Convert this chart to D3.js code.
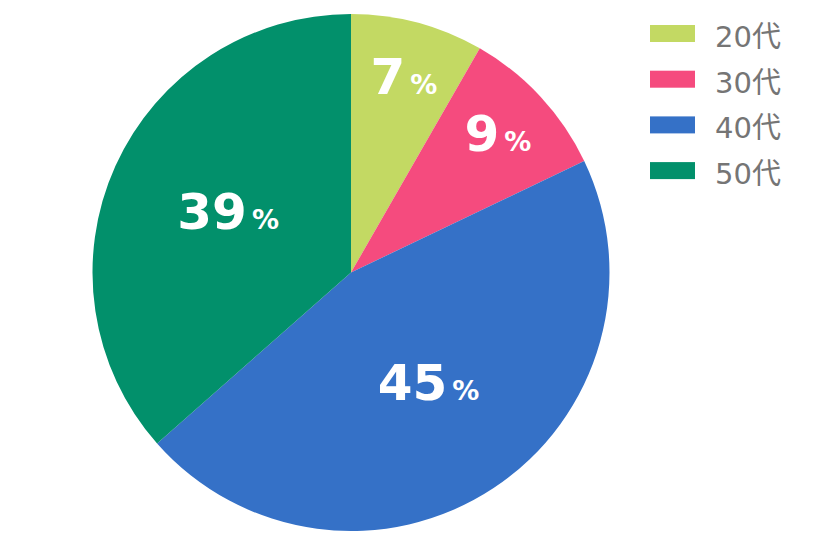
<!DOCTYPE html>
<html>
<head>
<meta charset="utf-8">
<script src="https://cdn.jsdelivr.net/npm/d3@7"></script>
<style>
html,body{margin:0;padding:0;background:#fff;}
svg{display:block;}
</style>
</head>
<body>
<svg id="chart" width="816" height="544"></svg>
<script>
// Data
const categories = ["20代", "30代", "40代", "50代"];
const shares = [8.3, 9.6, 45.6, 36.5];      // slice sizes as drawn
const labelValues = ["7", "9", "45", "39"]; // printed labels
const colors = ["#C3D963", "#F54B7E", "#3571C7", "#02906B"];

const svg = d3.select("#chart");
const cx = 351, cy = 272.5, R = 258.5;

const data = categories.map((c, i) => ({cat: c, value: shares[i], label: labelValues[i], color: colors[i]}));
const pie = d3.pie().value(d => d.value).sort(null);
const arcs = pie(data);
const arc = d3.arc().innerRadius(0).outerRadius(R);

const g = svg.append("g").attr("transform", `translate(${cx},${cy})`);
g.selectAll("path").data(arcs).join("path")
  .attr("d", arc)
  .attr("fill", d => d.data.color);

const total = d3.sum(shares);
const labelArc = d => {
  const frac = d.data.value / total;
  const r = frac < 0.15 ? R * 0.765 : R * 0.53;
  return d3.arc().innerRadius(r).outerRadius(r).centroid(d);
};

const labels = g.selectAll("text.lbl").data(arcs).join("text")
  .attr("class", "lbl")
  .attr("text-anchor", "middle")
  .attr("fill", "#fff")
  .attr("font-family", "'DejaVu Sans', sans-serif")
  .attr("font-weight", "bold")
  .attr("x", d => labelArc(d)[0] + 2)
  .attr("y", d => labelArc(d)[1] + 13);
labels.append("tspan").attr("font-size", 50).text(d => d.data.label);
labels.append("tspan").attr("font-size", 27).attr("dx", 5).text("%");

// Legend
const legend = svg.append("g").attr("transform", "translate(650,25)");
const items = legend.selectAll("g").data(data).join("g")
  .attr("transform", (d, i) => `translate(0,${i * 45.7})`);
items.append("rect").attr("width", 45).attr("height", 17).attr("fill", d => d.color);
items.append("text")
  .attr("x", 65).attr("y", 22)
  .attr("font-family", "'DejaVu Sans', 'Noto Sans CJK JP', sans-serif")
  .attr("font-size", 29)
  .attr("fill", "#757575")
  .text(d => d.cat);
</script>
</body>
</html>
